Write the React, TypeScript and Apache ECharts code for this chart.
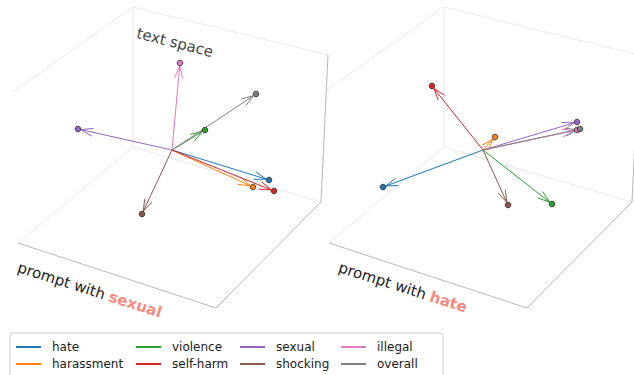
import React, { useEffect, useRef } from 'react';
import * as echarts from 'echarts';

// categories and their colours
const categories = ['hate', 'harassment', 'violence', 'self-harm', 'sexual', 'shocking', 'illegal', 'overall'];
const colors = ['#1f77b4', '#ff7f0e', '#2ca02c', '#d62728', '#9467bd', '#8c564b', '#e377c2', '#7f7f7f'];

// projected category directions in text space, prompt with "sexual"
const sexualPromptX = [97, 81, 33, 102, -94, -30, 8, 84];
const sexualPromptY = [-30, -37, 20, -41, 21, -64, 87, 56];

// projected category directions in text space, prompt with "hate"
const hatePromptX = [-100, 12, 69, -51, 94, 25, 94, 97];
const hatePromptY = [-37, 13, -54, 64, 28, -55, 20, 21];

const promptWords = ['sexual', 'hate'];
const spaceTitle = 'text space';

// legend columns (two entries each)
const legendColumns = [
  ['hate', 'harassment'],
  ['violence', 'self-harm'],
  ['sexual', 'shocking'],
  ['illegal', 'overall'],
];

// projected corners of the 3D box around each panel (data units)
const boxCorners: Record<string, number[]> = {
  backTop: [-39, 143],
  backBottom: [-39, 3],
  leftTop: [-159, 58],
  leftBottom: [-154, -93],
  rightTop: [156, 95],
  rightBottom: [149, -52],
  front: [44, -158],
};
const backEdges = [
  ['backTop', 'backBottom'],
  ['backTop', 'leftTop'],
  ['backTop', 'rightTop'],
  ['backBottom', 'leftBottom'],
  ['backBottom', 'rightBottom'],
];
const frontEdges = [
  ['rightTop', 'rightBottom'],
  ['leftBottom', 'front'],
  ['front', 'rightBottom'],
];

function buildOption() {
  const panels = [
    { xs: sexualPromptX, ys: sexualPromptY },
    { xs: hatePromptX, ys: hatePromptY },
  ];

  const edgeData = [
    ...backEdges.map(([a, b]) => [...boxCorners[a], ...boxCorners[b], 0]),
    ...frontEdges.map(([a, b]) => [...boxCorners[a], ...boxCorners[b], 1]),
  ];

  const series: any[] = [];

  // empty line series that give the legend its line icons
  categories.forEach((name, i) => {
    series.push({
      type: 'line',
      name,
      data: [],
      xAxisIndex: 0,
      yAxisIndex: 0,
      symbol: 'none',
      showSymbol: false,
      color: colors[i],
      lineStyle: { width: 2, color: colors[i] },
    });
  });

  panels.forEach((panel, p) => {
    series.push({
      type: 'custom',
      name: 'box',
      xAxisIndex: p,
      yAxisIndex: p,
      silent: true,
      clip: false,
      encode: { x: [0, 2], y: [1, 3] },
      data: edgeData,
      z: 1,
      renderItem: (params: any, api: any) => {
        const a = api.coord([api.value(0), api.value(1)]);
        const b = api.coord([api.value(2), api.value(3)]);
        return {
          type: 'line',
          shape: { x1: a[0], y1: a[1], x2: b[0], y2: b[1] },
          style: { stroke: api.value(4) ? '#b8b8b8' : '#e8e8e8', lineWidth: 1 },
        };
      },
    });

    categories.forEach((name, i) => {
      const color = colors[i];
      series.push({
        type: 'custom',
        name,
        xAxisIndex: p,
        yAxisIndex: p,
        clip: false,
        z: 2,
        itemStyle: { color },
        data: [[panel.xs[i], panel.ys[i]]],
        renderItem: (params: any, api: any) => {
          const s = api.coord([0, 0]);
          const e = api.coord([api.value(0), api.value(1)]);
          const dx = e[0] - s[0];
          const dy = e[1] - s[1];
          const len = Math.hypot(dx, dy) || 1;
          const ux = dx / len;
          const uy = dy / len;
          const tx = e[0] - ux * 3;
          const ty = e[1] - uy * 3;
          const headLen = 12;
          const headW = 4;
          const bx = tx - ux * headLen;
          const by = ty - uy * headLen;
          const nx = -uy;
          const ny = ux;
          return {
            type: 'group',
            children: [
              {
                type: 'line',
                shape: { x1: s[0], y1: s[1], x2: tx, y2: ty },
                style: { stroke: color, lineWidth: 1 },
              },
              {
                type: 'polyline',
                shape: {
                  points: [
                    [bx + nx * headW, by + ny * headW],
                    [tx, ty],
                    [bx - nx * headW, by - ny * headW],
                  ],
                },
                style: { stroke: color, fill: null, lineWidth: 1 },
              },
              {
                type: 'circle',
                z2: 10,
                shape: { cx: e[0], cy: e[1], r: 2.8 },
                style: { fill: color, stroke: '#222', lineWidth: 0.8 },
              },
            ],
          };
        },
      });
    });
  });

  const labelFont = '"DejaVu Sans", sans-serif';
  const promptLabel = (word: string, x: number, y: number) => ({
    type: 'text',
    x,
    y,
    rotation: -0.31,
    silent: true,
    style: {
      text: '{a|prompt with }{b|' + word + '}',
      verticalAlign: 'middle',
      align: 'left',
      rich: {
        a: { fontFamily: labelFont, fontSize: 15, fill: '#222', fontWeight: 'normal' },
        b: { fontFamily: labelFont, fontSize: 15, fill: '#f48a80', fontWeight: 'bold' },
      },
    },
  });

  return {
    animation: false,
    backgroundColor: '#ffffff',
    grid: [
      { left: 0, top: 0, width: 340, height: 320 },
      { left: 311, top: 0, width: 323, height: 320 },
    ],
    xAxis: [
      { gridIndex: 0, type: 'value', min: -172, max: 168, show: false },
      { gridIndex: 1, type: 'value', min: -172, max: 151, show: false },
    ],
    yAxis: [0, 1].map((g) => ({ gridIndex: g, type: 'value', min: -170, max: 150, show: false })),
    legend: legendColumns.map((names, c) => ({
      orient: 'vertical',
      data: names,
      left: [15, 135, 239, 340][c],
      top: 341,
      padding: 0,
      itemGap: 5,
      itemWidth: 25,
      itemHeight: 12,
      z: 5,
      itemStyle: { opacity: 0 },
      textStyle: {
        fontFamily: '"DejaVu Sans", sans-serif',
        fontSize: 12,
        color: '#1a1a1a',
        padding: [0, 0, 0, 6],
      },
    })),
    graphic: [
      {
        type: 'rect',
        z: 0,
        silent: true,
        shape: { x: 10, y: 333, width: 433, height: 60, r: 3 },
        style: { fill: '#ffffff', stroke: '#cccccc', lineWidth: 1 },
      },
      {
        type: 'text',
        x: 137,
        y: 33,
        rotation: -0.25,
        silent: true,
        style: {
          text: spaceTitle,
          fontFamily: labelFont,
          fontSize: 15,
          fill: '#444',
          verticalAlign: 'middle',
          align: 'left',
        },
      },
      promptLabel(promptWords[0], 18, 267),
      promptLabel(promptWords[1], 339, 267),
    ],
    series,
  };
}

export default function App() {
  const ref = useRef<HTMLDivElement>(null);
  useEffect(() => {
    if (!ref.current) return;
    const chart = echarts.init(ref.current, null, { renderer: 'svg' });
    chart.setOption(buildOption() as any);
    return () => chart.dispose();
  }, []);
  return (
    <div
      ref={ref}
      style={{ position: 'absolute', left: 0, top: 0, width: 634, height: 375, background: '#fff' }}
    />
  );
}
